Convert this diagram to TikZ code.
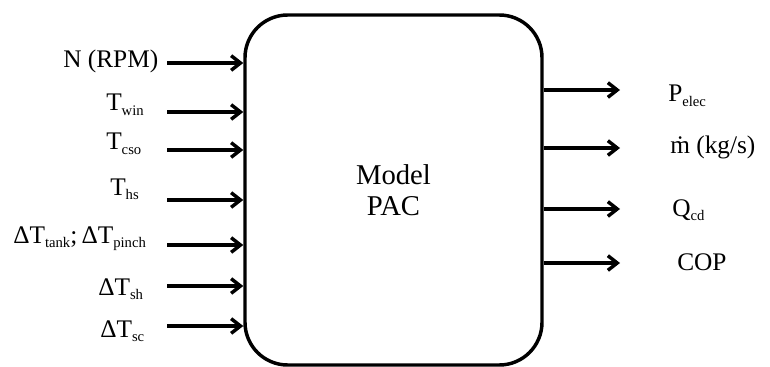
\documentclass[tikz,border=0pt]{standalone}
\usepackage{fontspec}
\setmainfont{Liberation Serif}
\usetikzlibrary{arrows.meta}
\newcommand\sbx[1]{\raisebox{-3.5pt}{\fontsize{11pt}{12pt}\selectfont #1}}
\tikzset{
  arr/.style={line width=2.6pt,-{Straight Barb[length=7pt,width=11pt]}},
  lbl/.style={font=\fontsize{19pt}{23pt}\selectfont,inner sep=0pt,anchor=base west},
  model/.style={draw,line width=2.6pt,rounded corners=32pt,minimum width=222.75pt,minimum height=262.5pt,
    align=center,font=\fontsize{21.5pt}{23pt}\selectfont}
}
\begin{document}
\begin{tikzpicture}[x=0.75pt,y=-0.75pt]
\useasboundingbox (0,0) rectangle (770,367);
\node[model] (box) at (393.5,190) {Model\\PAC};
% inputs
\coordinate (s1) at (167,63);
\coordinate (s2) at (167,112);
\coordinate (s3) at (167,150);
\coordinate (s4) at (167,200);
\coordinate (s5) at (167,245);
\coordinate (s6) at (167,286);
\coordinate (s7) at (167,326);
\foreach \i in {1,...,7} {\draw[arr] (s\i) -- (s\i -| box.west);}
\node[lbl] (l1) at (63,68) {N (RPM)};
\node[lbl] (l2) at (106,111) {T\sbx{win}};
\node[lbl] (l3) at (106,150) {T\sbx{cso}};
\node[lbl] (l4) at (110,195) {T\sbx{hs}};
\node[lbl] (l5) at (13,243) {ΔT\sbx{tank};\,ΔT\sbx{pinch}};
\node[lbl] (l6) at (98,295) {ΔT\sbx{sh}};
\node[lbl] (l7) at (100,337) {ΔT\sbx{sc}};
% outputs
\coordinate (e1) at (620,90);
\coordinate (e2) at (620,148);
\coordinate (e3) at (620,209);
\coordinate (e4) at (620,263);
\foreach \i in {1,...,4} {\draw[arr] (e\i -| box.east) -- (e\i);}
\node[lbl] (o1) at (668,102) {P\sbx{elec}};
\node[lbl] (o2) at (670,153) {ṁ (kg/s)};
\node[lbl] (o3) at (672,216) {Q\sbx{cd}};
\node[lbl] (o4) at (677,270) {COP};
\end{tikzpicture}
\end{document}
